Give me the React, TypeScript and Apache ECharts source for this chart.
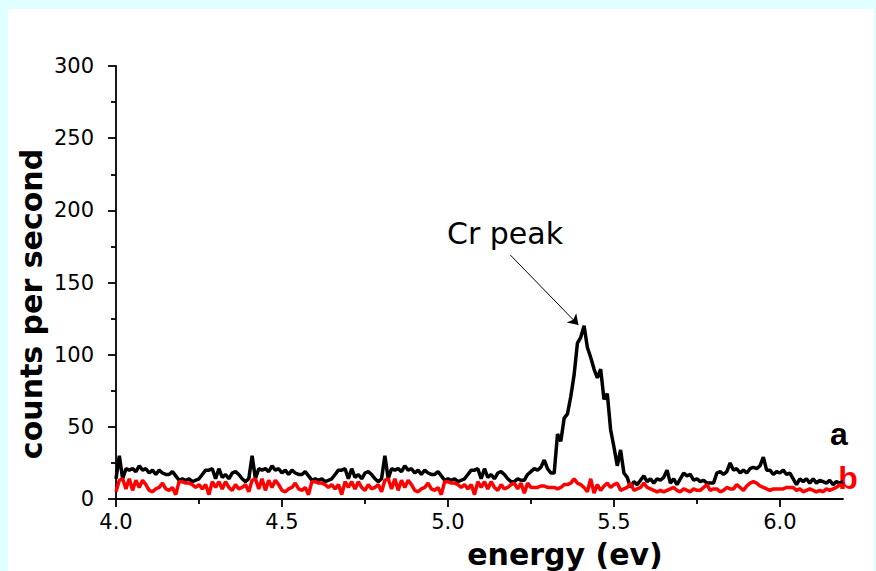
import React, { useEffect, useRef } from "react";
import * as echarts from "echarts";

// energy axis sampling (eV)
const energyStart = 4.0;
const energyStep = 0.01;

// curve a (black): counts per second, 4.00 .. 6.19 eV
const countsA = [
  14, 30, 14, 21, 20, 21, 19, 23, 20, 21, 18, 20, 17, 20, 18, 17, 17, 19, 16, 13,
  14, 13, 14, 12, 13, 14, 17, 20, 20, 21, 14, 21, 15, 17, 14, 18, 19, 17, 14, 12,
  14, 30, 14, 21, 20, 21, 19, 23, 20, 21, 18, 20, 17, 20, 18, 17, 17, 19, 16, 13,
  14, 13, 14, 12, 13, 14, 17, 20, 20, 21, 14, 21, 15, 17, 14, 18, 19, 17, 14, 12,
  14, 30, 14, 21, 20, 21, 19, 23, 20, 21, 18, 20, 17, 20, 18, 17, 17, 19, 16, 13,
  14, 13, 14, 12, 13, 14, 17, 20, 20, 21, 14, 21, 15, 17, 14, 18, 19, 17, 14, 12,
  12, 14, 13, 13, 17, 19, 21, 20, 22, 27, 21, 18, 18, 45, 40, 56, 59, 71, 86, 108,
  112, 120, 105, 98, 90, 84, 90, 69, 73, 48, 36, 23, 34, 18, 15, 8, 12, 10, 13, 16,
  12, 14, 11, 14, 13, 15, 20, 11, 14, 10, 14, 18, 16, 17, 13, 14, 12, 13, 11, 11,
  11, 18, 19, 17, 19, 25, 20, 21, 18, 20, 18, 21, 22, 21, 23, 29, 20, 20, 17, 19,
  18, 20, 17, 18, 14, 10, 14, 12, 14, 11, 14, 11, 13, 12, 11, 13, 10, 12, 11, 12,
];

// curve b (red): counts per second, 4.00 .. 6.19 eV
const countsB = [
  5, 13, 14, 7, 14, 6, 13, 8, 13, 10, 6, 5, 7, 8, 11, 7, 6, 8, 3, 12,
  12, 11, 11, 10, 8, 10, 7, 10, 3, 12, 8, 12, 7, 12, 8, 6, 10, 7, 8, 10,
  5, 13, 14, 7, 14, 6, 13, 8, 13, 10, 6, 5, 7, 8, 11, 7, 6, 8, 3, 12,
  12, 11, 11, 10, 8, 10, 7, 10, 3, 12, 8, 12, 7, 12, 8, 6, 10, 7, 8, 10,
  5, 13, 14, 7, 14, 6, 13, 8, 13, 10, 6, 5, 7, 8, 11, 7, 6, 8, 3, 12,
  12, 11, 11, 10, 8, 10, 7, 10, 3, 12, 8, 12, 7, 12, 8, 6, 10, 7, 8, 10,
  11, 7, 11, 4, 11, 8, 8, 8, 9, 9, 8, 8, 8, 7, 8, 10, 10, 11, 14, 11,
  10, 8, 5, 14, 4, 10, 6, 9, 11, 8, 10, 11, 6, 7, 8, 11, 6, 7, 8, 11,
  8, 7, 6, 5, 6, 5, 6, 7, 8, 6, 5, 7, 6, 5, 7, 6, 6, 8, 10, 6,
  7, 7, 5, 6, 8, 7, 7, 10, 8, 6, 9, 11, 12, 11, 9, 8, 7, 6, 7, 7,
  7, 7, 8, 8, 8, 6, 7, 5, 6, 7, 6, 5, 6, 5, 7, 6, 7, 8, 10, 9,
];

const xMin = 4.0;
const xMax = 6.19;
const xMajorTicks = [4.0, 4.5, 5.0, 5.5, 6.0];
const xMinorTicks = [4.25, 4.75, 5.25, 5.75];
const yMin = 0;
const yMax = 300;
const yInterval = 50;

// annotation arrow: from label towards the Cr peak (energy, counts)
const arrowFrom = [5.188, 169];
const arrowTo = [5.393, 120.5];

const seriesNames = ["a", "b"];
const seriesColors = ["#000000", "#ff0000"];

const FONT = '"DejaVu Sans", Verdana, sans-serif';
const FONT_AB = '"Liberation Sans", Arial, Helvetica, sans-serif';

function toPairs(values: number[]) {
  return values.map((v, i) => [Number((energyStart + i * energyStep).toFixed(2)), v]);
}

function centeredText(x: number, y: number, text: string, extra: any, rotation = 0) {
  return {
    type: "text",
    x,
    y,
    rotation,
    silent: true,
    style: {
      text,
      fill: "#000",
      align: "center",
      verticalAlign: "middle",
      textAlign: "center",
      textVerticalAlign: "middle",
      ...extra,
    },
  };
}

export default function App() {
  const ref = useRef<HTMLDivElement>(null);

  useEffect(() => {
    if (!ref.current) return;
    const chart = echarts.init(ref.current, null, { renderer: "svg" });
    const axisLineStyle = { color: "#000", width: 1.8 };
    const option: any = {
      animation: false,
      backgroundColor: "#ffffff",
      grid: { left: 108, top: 57, right: 31, bottom: 72, containLabel: false },
      xAxis: [
        {
          type: "value",
          min: xMin,
          max: xMax,
          interval: 0.5,
          position: "bottom",
          axisLine: { show: true, onZero: false, lineStyle: axisLineStyle },
          axisTick: { show: true, customValues: xMajorTicks, length: 8, lineStyle: axisLineStyle },
          axisLabel: {
            show: true,
            customValues: xMajorTicks,
            color: "#000",
            fontFamily: FONT,
            fontSize: 21,
            margin: 12,
            formatter: (v: number) =>
              Math.abs(v * 2 - Math.round(v * 2)) < 1e-6 ? v.toFixed(1) : "",
          },
          splitLine: { show: false },
        },
        {
          type: "value",
          min: xMin,
          max: xMax,
          interval: 0.25,
          position: "bottom",
          axisLine: { show: false, onZero: false },
          axisTick: { show: true, customValues: xMinorTicks, length: 5, lineStyle: axisLineStyle },
          axisLabel: { show: false },
          splitLine: { show: false },
        },
      ],
      yAxis: {
        type: "value",
        min: yMin,
        max: yMax,
        interval: yInterval,
        axisLine: { show: true, lineStyle: axisLineStyle },
        axisTick: { show: true, length: 8, lineStyle: axisLineStyle },
        minorTick: { show: true, splitNumber: 2, length: 5, lineStyle: axisLineStyle },
        axisLabel: { color: "#000", fontFamily: FONT, fontSize: 21, margin: 22 },
        splitLine: { show: false },
        minorSplitLine: { show: false },
      },
      series: [
        {
          name: seriesNames[0],
          type: "line",
          xAxisIndex: 0,
          data: toPairs(countsA),
          showSymbol: false,
          symbol: "none",
          lineStyle: { color: seriesColors[0], width: 3.5 },
          itemStyle: { color: seriesColors[0] },
          silent: true,
          markLine: {
            silent: true,
            symbol: ["none", "arrow"],
            symbolSize: 10,
            label: { show: false },
            lineStyle: { color: "#000", width: 1, type: "solid" },
            emphasis: { disabled: true },
            data: [[{ coord: arrowFrom }, { coord: arrowTo }]],
          },
        },
        {
          name: seriesNames[1],
          type: "line",
          xAxisIndex: 0,
          data: toPairs(countsB),
          showSymbol: false,
          symbol: "none",
          lineStyle: { color: seriesColors[1], width: 3.5 },
          itemStyle: { color: seriesColors[1] },
          silent: true,
        },
      ],
      graphic: [
        centeredText(23, 295, "counts per second", { fontFamily: FONT, fontSize: 30, fontWeight: "bold" }, Math.PI / 2),
        centeredText(557, 545, "energy (ev)", { fontFamily: FONT, fontSize: 30, fontWeight: "bold" }),
        centeredText(497, 224, "Cr peak", { fontFamily: FONT, fontSize: 30 }),
        centeredText(831, 425, seriesNames[0], { fontFamily: FONT_AB, fontSize: 32, fontWeight: "bold", fill: seriesColors[0] }),
        centeredText(840, 469, seriesNames[1], { fontFamily: FONT_AB, fontSize: 32, fontWeight: "bold", fill: seriesColors[1] }),
      ],
    };
    chart.setOption(option);
    return () => chart.dispose();
  }, []);

  return (
    <div
      style={{
        position: "fixed",
        left: 0,
        top: 0,
        width: 876,
        height: 571,
        background: "#e0ffff",
      }}
    >
      <div
        ref={ref}
        style={{
          position: "absolute",
          left: 8,
          top: 9,
          width: 866,
          height: 562,
          background: "#ffffff",
        }}
      />
    </div>
  );
}
